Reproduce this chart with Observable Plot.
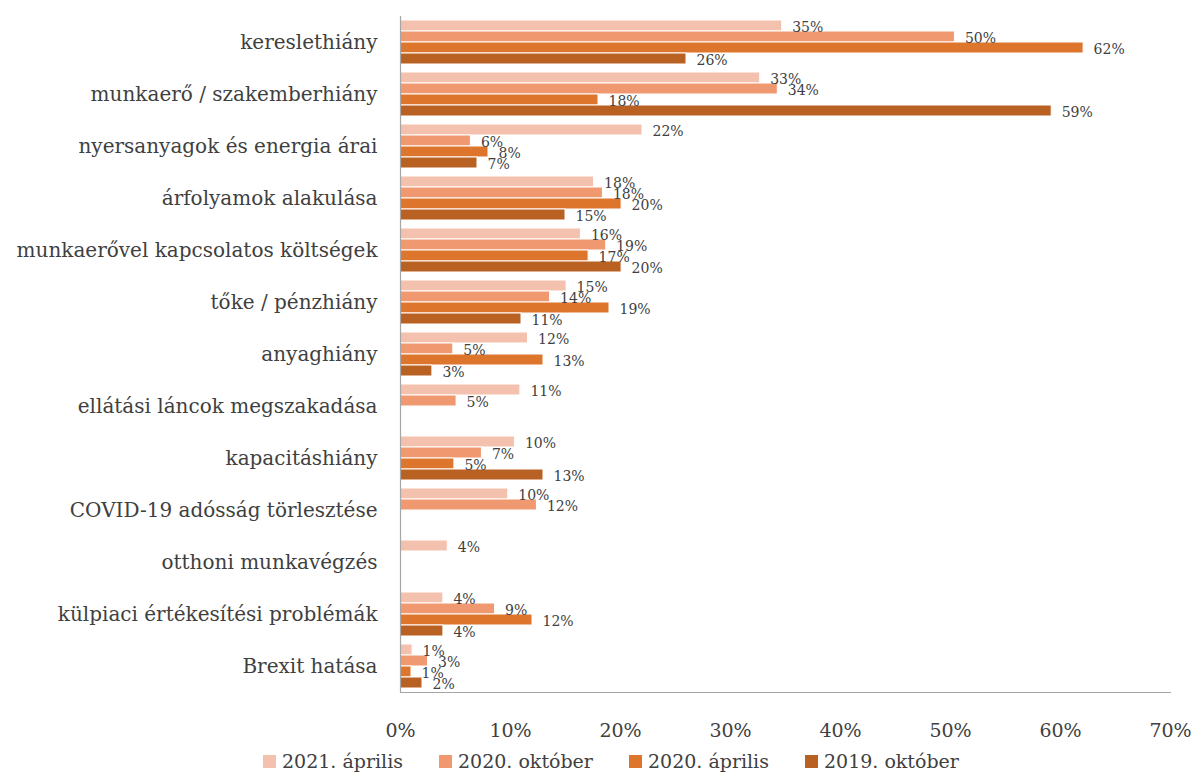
<!DOCTYPE html>
<html>
<head>
<meta charset="utf-8">
<script src="https://cdn.jsdelivr.net/npm/d3@7"></script>
<script src="https://cdn.jsdelivr.net/npm/@observablehq/plot@0.6"></script>
<style>
  body { margin: 0; background: #fff; font-family: "DejaVu Serif", serif; }
  #chart svg { display: block; }
  .legend { display: flex; justify-content: flex-start; gap: 36px; font-size: 19px; color: #404040; padding-left: 263px; line-height: 23px; }
  .legend span.item { display: flex; align-items: center; gap: 6px; }
  .legend span.sw { width: 13px; height: 13px; display: inline-block; }
</style>
</head>
<body>
<div id="chart"></div>
<div class="legend" id="legend"></div>
<script>
const categories = [
  "kereslethiány",
  "munkaerő / szakemberhiány",
  "nyersanyagok és energia árai",
  "árfolyamok alakulása",
  "munkaerővel kapcsolatos költségek",
  "tőke / pénzhiány",
  "anyaghiány",
  "ellátási láncok megszakadása",
  "kapacitáshiány",
  "COVID-19 adósság törlesztése",
  "otthoni munkavégzés",
  "külpiaci értékesítési problémák",
  "Brexit hatása"
];
const series = ["2021. április", "2020. október", "2020. április", "2019. október"];
const colors = ["#F5C1AF", "#F0986F", "#DE752D", "#B96123"];

const apr2021 = [34.7, 32.7, 22.0, 17.6, 16.4, 15.1, 11.6, 10.9, 10.4, 9.8, 4.3, 3.9, 1.1];
const okt2020 = [50.4, 34.3, 6.4, 18.4, 18.7, 13.6, 4.8, 5.1, 7.4, 12.4, null, 8.6, 2.5];
const apr2020 = [62.1, 18.0, 8.0, 20.1, 17.1, 19.0, 13.0, null, 4.9, null, null, 12.0, 1.0];
const okt2019 = [26.0, 59.2, 7.0, 15.0, 20.1, 11.0, 2.9, null, 13.0, null, null, 3.9, 2.0];
const xTicks = [0, 10, 20, 30, 40, 50, 60, 70];

const seriesValues = [apr2021, okt2020, apr2020, okt2019];
const data = [];
categories.forEach((c, i) => {
  series.forEach((s, j) => {
    const v = seriesValues[j][i];
    if (v != null) data.push({category: c, series: s, value: v});
  });
});

const chart = Plot.plot({
  width: 1197,
  height: 750,
  marginLeft: 400,
  marginRight: 27,
  marginTop: 13,
  marginBottom: 55,
  style: {fontFamily: "DejaVu Serif", fontSize: "18px", color: "#404040", background: "white"},
  x: {domain: [0, 70], ticks: xTicks, tickFormat: d => d + "%", label: null},
  y: {domain: series, axis: null, paddingInner: 0, paddingOuter: 0.2},
  fy: {domain: categories, padding: 0, label: null},
  color: {domain: series, range: colors},
  marks: [
    Plot.barX(data, {x: "value", y: "series", fy: "category", fill: "series", stroke: "white", strokeWidth: 1}),
    Plot.text(data, {x: "value", y: "series", fy: "category", text: d => Math.round(d.value) + "%", dx: 10, dy: 2, textAnchor: "start", fontSize: 14, fill: "#404040"}),
    Plot.ruleX([0], {stroke: "#a6a6a6", strokeWidth: 1.2}),
    Plot.frame({anchor: "bottom", facetAnchor: "bottom", stroke: "#a6a6a6", strokeWidth: 1.2}),
    Plot.axisX({tickSize: 0, tickPadding: 31, fontSize: 19, label: null, tickFormat: d => d + "%"}),
    Plot.axisFy({anchor: "left", tickSize: 0, tickPadding: 23, fontSize: 20, label: null})
  ]
});
document.getElementById("chart").appendChild(chart);

const legend = document.getElementById("legend");
series.forEach((s, i) => {
  const item = document.createElement("span");
  item.className = "item";
  const sw = document.createElement("span");
  sw.className = "sw";
  sw.style.background = colors[i];
  item.appendChild(sw);
  item.appendChild(document.createTextNode(s));
  legend.appendChild(item);
});
</script>
</body>
</html>
